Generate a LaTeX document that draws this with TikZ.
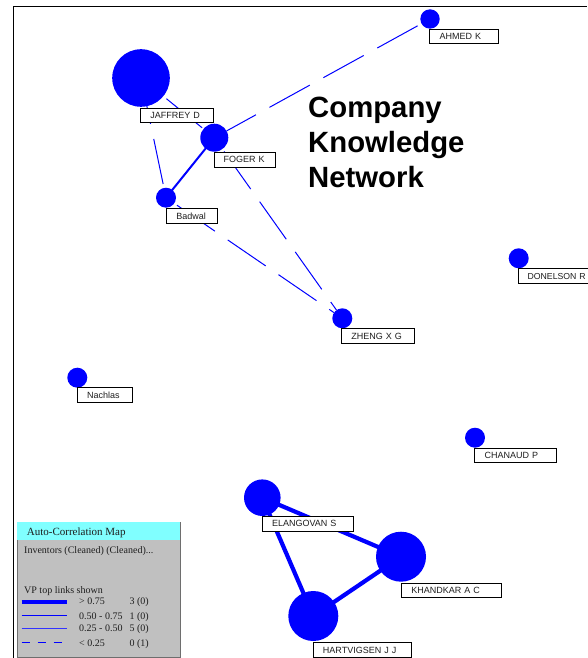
\documentclass[tikz,border=0pt]{standalone}
\usepackage{fontspec}
\setmainfont{Liberation Serif}
\setsansfont{Liberation Sans}
\usetikzlibrary{backgrounds}
\definecolor{nodeblue}{RGB}{0,0,255}
\definecolor{hdrcyan}{RGB}{128,255,255}
\definecolor{leggray}{RGB}{192,192,192}
\definecolor{legborder}{RGB}{110,110,110}
\definecolor{lbltext}{RGB}{30,30,30}
\begin{document}
\begin{tikzpicture}[x=1pt,y=-1pt,
  vtx/.style={circle, fill=nodeblue, inner sep=0pt, outer sep=0pt, minimum size=#1},
  lbl/.style={draw=black, line width=0.7pt, fill=white, anchor=north west, inner sep=0pt,
    minimum height=14.5pt, text height=6.5pt, text depth=0pt, text width=#1, align=left,
    text=lbltext, font=\sffamily\fontsize{9}{10}\selectfont},
  thickedge/.style={draw=nodeblue, line width=4.2pt},
  mededge/.style={draw=nodeblue, line width=2pt},
  dashedge/.style={draw=nodeblue, line width=1pt, dash pattern=on 46pt off 15.5pt},
  legtxt/.style={anchor=base west, inner sep=0pt, text=lbltext, font=\fontsize{10}{12}\selectfont},
  title/.style={anchor=base west, inner sep=0pt, align=left, font=\sffamily\bfseries\fontsize{29.3}{35}\selectfont}
]
\useasboundingbox (0,0) rectangle (587,658);
% frame
\draw[line width=1.5pt] (13.5,658) -- (13.5,6.5) -- (587,6.5);

% vertices
\node[vtx=57.6pt] (jaf) at (141,78) {};
\node[vtx=28pt]   (fog) at (214.3,137.7) {};
\node[vtx=20pt]   (bad) at (166,197.7) {};
\node[vtx=19.4pt] (ahm) at (430,19) {};
\node[vtx=20pt]   (don) at (518.7,258.3) {};
\node[vtx=20pt]   (zhe) at (342.3,318.3) {};
\node[vtx=20pt]   (nac) at (77.3,377.7) {};
\node[vtx=20pt]   (cha) at (475,437.7) {};
\node[vtx=36.6pt] (ela) at (262.3,497.7) {};
\node[vtx=50pt]   (kha) at (401,556.7) {};
\node[vtx=50pt]   (har) at (313.3,616) {};

% edges
\begin{scope}[on background layer]
\draw[thickedge] (ela.center) -- (kha.center);
\draw[thickedge] (ela.center) -- (har.center);
\draw[thickedge] (kha.center) -- (har.center);
\draw[mededge] (fog.center) -- (bad.center);
\end{scope}
\draw[dashedge, dash phase=57.5pt] (jaf) -- (fog);
\draw[dashedge, dash phase=28pt] (jaf) -- (bad);
\draw[dashedge, dash phase=57pt] (ahm) -- (fog);
\draw[dashedge, dash phase=58.6pt] (fog) -- (zhe);
\draw[dashedge, dash phase=58.2pt] (bad) -- (zhe);

% labels
\node[lbl=72.4pt] (jafl) at (140.3,108)   {\hspace*{9.7pt}JAFFREY D};
\node[lbl=61pt]   (fogl) at (214.3,152)   {\hspace*{9pt}FOGER K};
\node[lbl=51pt]   (badl) at (166,208.3)   {\hspace*{10pt}Badwal};
\node[lbl=68.4pt] (ahml) at (429.3,29)    {\hspace*{10pt}AHMED K};
\node[lbl=85pt, font=\sffamily\fontsize{8.7}{10}\selectfont] (donl) at (518.3,268.3) {\hspace*{9pt}DONELSON R};
\node[lbl=72.7pt] (zhel) at (341.3,328.3) {\hspace*{9.7pt}ZHENG X G};
\node[lbl=54.7pt] (nacl) at (77,387.3)    {\hspace*{9.7pt}Nachlas};
\node[lbl=81.4pt] (chal) at (474.3,447.7) {\hspace*{10pt}CHANAUD P};
\node[lbl=91.6pt] (elal) at (261.7,516)   {\hspace*{10pt}ELANGOVAN S};
\node[lbl=99.7pt] (khal) at (401,582.7)   {\hspace*{10pt}KHANDKAR A C};
\node[lbl=97.4pt] (harl) at (313.3,642.3) {\hspace*{9.3pt}HARTVIGSEN J J};

% title (base anchor = baseline of the last line)
\node[title] (ttl) at (308,187.3) {Company\\Knowledge\\Network};

% legend
\node[draw=legborder, line width=0.8pt, fill=leggray, anchor=north west, inner sep=0pt,
      minimum width=163.3pt, minimum height=135pt] (leg) at (16.7,521.7) {};
\node[fill=hdrcyan, anchor=north west, inner sep=0pt, minimum width=162.5pt, minimum height=17.4pt] (hdr) at (17.1,522.1) {};
\node[legtxt, font=\fontsize{11}{13}\selectfont] (hdrt) at (26.7,535) {Auto-Correlation Map};
\node[legtxt] (inv) at (24,553.3) {Inventors (Cleaned) (Cleaned)...};
\node[legtxt] (vp) at (24,593.3) {VP top links shown};
\draw[draw=nodeblue, line width=4pt] (21.7,601.7) -- (66.7,601.7);
\draw[draw=nodeblue, line width=1pt] (21.7,615.7) -- (66.7,615.7);
\draw[draw=nodeblue!80!white, line width=1.5pt] (21.7,628.3) -- (66.7,628.3);
\draw[draw=nodeblue, line width=1.3pt, dash pattern=on 8pt off 8pt] (21.7,642.7) -- (66.7,642.7);
\node[legtxt] (r1a) at (79,604)   {> 0.75};
\node[legtxt] (r2a) at (79,619.3) {0.50 - 0.75};
\node[legtxt] (r3a) at (79,631)   {0.25 - 0.50};
\node[legtxt] (r4a) at (79,646)   {< 0.25};
\node[legtxt] (r1b) at (129.3,604)   {3 (0)};
\node[legtxt] (r2b) at (129.3,619.3) {1 (0)};
\node[legtxt] (r3b) at (129.3,631)   {5 (0)};
\node[legtxt] (r4b) at (129.3,646)   {0 (1)};
\end{tikzpicture}
\end{document}
